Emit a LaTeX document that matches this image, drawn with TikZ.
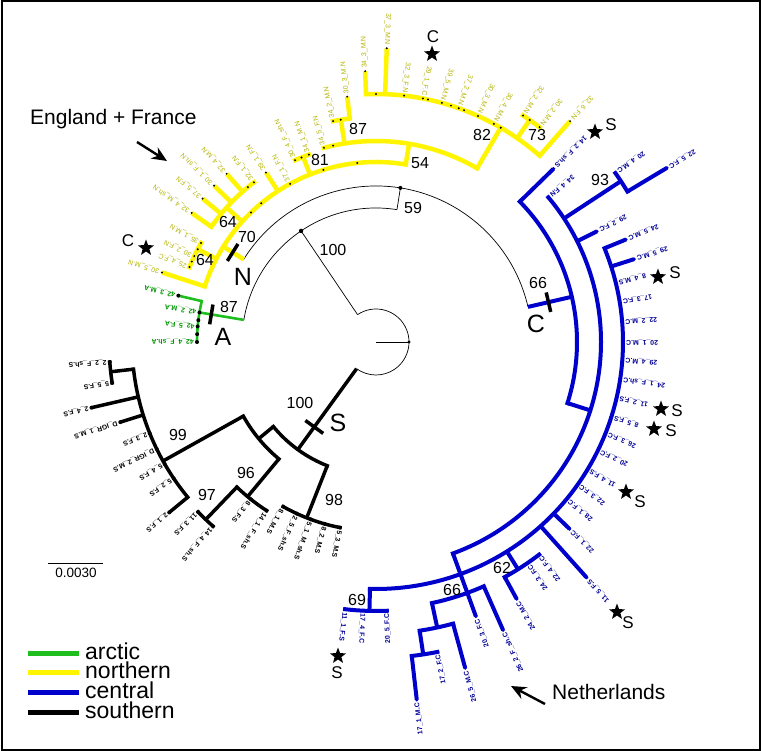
\documentclass[tikz,border=0pt]{standalone}
\usepackage{fontspec}
\setmainfont{Liberation Sans}
\usetikzlibrary{shapes.geometric,arrows.meta,calc}
\definecolor{ygl}{RGB}{255,245,0}
\definecolor{ytx}{RGB}{180,180,0}
\definecolor{bln}{RGB}{0,0,205}
\definecolor{btx}{RGB}{0,0,150}
\definecolor{gln}{RGB}{30,190,30}
\definecolor{gtx}{RGB}{0,150,0}
\newcounter{lfc}
\tikzset{
  Yline/.style={draw=ygl, line width=4.5pt},
  Bline/.style={draw=bln, line width=4pt},
  Kline/.style={draw=black, line width=3.5pt},
  Gline/.style={draw=gln, line width=2.6pt},
  Tline/.style={draw=black, line width=0.7pt},
  Ydot/.style={fill=black, radius=1.1},
  Bdot/.style={fill=bln, radius=1.9},
  Kdot/.style={fill=black, radius=2},
  Gdot/.style={fill=black, radius=2},
  Ylab/.style={text=ytx, font=\fontsize{6.9}{8}\selectfont, inner sep=0pt},
  Blab/.style={text=btx, font=\fontsize{6.9}{8}\selectfont\bfseries, inner sep=0pt},
  Klab/.style={text=black, font=\fontsize{6.9}{8}\selectfont\bfseries, inner sep=0pt},
  Glab/.style={text=gtx, font=\fontsize{6.9}{8}\selectfont\bfseries, inner sep=0pt},
  barline/.style={draw=black, line width=3.5pt},
  sup/.style={font=\fontsize{16}{18}\selectfont, inner sep=0pt},
  bigl/.style={font=\fontsize{25}{28}\selectfont, inner sep=0pt},
  starl/.style={font=\fontsize{17}{19}\selectfont, inner sep=0pt},
  starmark/.style={star, star points=5, star point ratio=2.4, fill=black, inner sep=0pt, minimum size=17pt},
  annot/.style={font=\fontsize{21}{24}\selectfont, inner sep=0pt},
  legt/.style={font=\fontsize{23}{25}\selectfont, inner sep=0pt},
  bigarrow/.style={line width=2.4pt, -{Stealth[length=15pt,width=13pt]}},
}
\newcommand{\tRad}[4]{\draw[#1line] (#2:#3) -- (#2:#4);}
\newcommand{\tArc}[4]{\draw[#1line, line cap=rect] (#2:#4) arc[start angle=#2, end angle=#3, radius=#4];}
\newcommand{\tDot}[3]{\fill[#1dot] (#2:#3) circle;}
\newcommand{\tBar}[3]{\draw[barline] ($(#1:#2)+(#1+90:#3)$) -- ($(#1:#2)+(#1-90:#3)$);}
\newcommand{\tLeaf}[5]{%
  \draw[#1line] (#2:#3) -- (#2:#4);
  \fill[#1dot] (#2:#4) circle;
  \stepcounter{lfc}%
  \pgfmathtruncatemacro\lside{cos(#2)<0}%
  \ifnum\lside=1
    \node[#1lab, anchor=west, rotate=#2] (leaf\arabic{lfc}) at (#2:{#4+3}) {\detokenize{#5}};
  \else
    \node[#1lab, anchor=east, rotate=#2+180] (leaf\arabic{lfc}) at (#2:{#4+3}) {\detokenize{#5}};
  \fi}
\begin{document}
\begin{tikzpicture}[x=1pt,y=1pt]
\useasboundingbox (0,0) rectangle (761,-751);
\fill[white] (0,0) rectangle (761,-751);
\draw[line width=2pt] (1.5,-1.5) rectangle (759.5,-749.5);

\begin{scope}[shift={(376,-342)}]
% ---------- thin backbone
\draw[Tline] (0:0) -- (0:33);
\fill (0:33) circle[radius=1.6];
\draw[Tline] (124:33) arc[start angle=124, end angle=-126, radius=33];
\draw[Tline] (124:33) -- (124:134);
\fill (124:134) circle[radius=2.2];
\draw[Tline] (81:134) arc[start angle=81, end angle=170.5, radius=134];
\draw[Tline] (81:134) -- (81:156);
\fill (81:156) circle[radius=2];
\draw[Tline] (13:156) arc[start angle=13, end angle=148, radius=156];

% ---------- arctic (green)
\tRad{G}{170.5}{134}{179}
\tArc{G}{166.8}{180}{179}
\tLeaf{G}{166.8}{179}{203}{42_3_M.A}
\tLeaf{G}{170.5}{179}{179}{42_2_M.A}
\tLeaf{G}{175}{179}{179}{42_5_F.A}
\tLeaf{G}{180}{179}{179}{42_4_F_sh.A}
\tDot{G}{173}{179}
\tDot{G}{177.5}{179}
\tBar{170.5}{167}{10}

% ---------- northern (yellow)
\tRad{Y}{148}{156}{180}
\tArc{Y}{80.5}{162}{180}
\tLeaf{Y}{162}{180}{225}{30_5_M.N}
\tRad{Y}{152.5}{180}{201}
\tArc{Y}{150.5}{158.1}{201}
\tLeaf{Y}{158.1}{201}{201}{25_4_F.C}
\tLeaf{Y}{154.7}{201}{201}{30_2_F.N}
\tLeaf{Y}{150.5}{201}{201}{35_1_M.N}
\tDot{Y}{156.4}{201}
\tDot{Y}{152.5}{201}
\tRad{Y}{138}{180}{201}
\tArc{Y}{127.4}{145}{201}
\tLeaf{Y}{145}{201}{225}{32_4_M_sh.N}
\tLeaf{Y}{140.4}{201}{225}{37_5_F.N}
\tLeaf{Y}{136}{201}{225}{30_1_F_sh.N}
\tLeaf{Y}{131.6}{201}{225}{32_4_M.N}
\tLeaf{Y}{127.4}{201}{201}{32_1_F.N}
\tDot{Y}{129.6}{201}
\tLeaf{Y}{123}{180}{202}{39_1_F.N}
\tLeaf{Y}{118.5}{180}{180}{37_1_F.N}
\tDot{Y}{134}{180}
\tDot{Y}{129.6}{180}
\tDot{Y}{107}{180}
\tDot{Y}{96}{180}
\tRad{Y}{111.5}{180}{199}
\tArc{Y}{109.7}{114}{199}
\tLeaf{Y}{114}{199}{199}{30_4_F_sh.N}
\tLeaf{Y}{109.7}{199}{199}{34_1_M.N}
\tDot{Y}{112}{199}
\tRad{Y}{80.5}{180}{201}
\tArc{Y}{59.8}{105}{201}
\tLeaf{Y}{105}{201}{201}{34_5_F.N}
\tDot{Y}{102.3}{201}
\tRad{Y}{99}{201}{225}
\tArc{Y}{96.7}{101}{225}
\tLeaf{Y}{101}{225}{225}{34_2_M.N}
\tLeaf{Y}{96.7}{225}{247}{30_3_M.N}
\tDot{Y}{99}{225}
\tRad{Y}{59.8}{201}{248}
\tArc{Y}{48.7}{92.3}{248}
\tLeaf{Y}{92.3}{248}{271}{34_3_M.N}
\tLeaf{Y}{87.9}{248}{294}{37_3_M.N}
\tDot{Y}{90}{248}
\tLeaf{Y}{83.5}{248}{248}{32_3_F.N}
\tLeaf{Y}{79.1}{248}{248}{29_1_F.C}
\tDot{Y}{77.9}{248}
\tLeaf{Y}{74.6}{248}{248}{39_5_M.N}
\tDot{Y}{72.4}{248}
\tLeaf{Y}{70.5}{248}{248}{37_2_M.N}
\tDot{Y}{69.2}{248}
\tLeaf{Y}{65.7}{248}{248}{30_3_M.N}
\tLeaf{Y}{61.6}{248}{248}{30_4_M.N}
\tDot{Y}{59.8}{248}
\tRad{Y}{55.3}{248}{270}
\tArc{Y}{52.7}{57}{270}
\tLeaf{Y}{57}{270}{270}{32_2_M.N}
\tLeaf{Y}{52.7}{270}{270}{30_2_M.N}
\tDot{Y}{55.3}{270}
\tLeaf{Y}{48.7}{248}{294}{32_6_F.N}
\tBar{148}{169}{10}

% ---------- central (blue)
\tRad{B}{13}{156}{201}
\tArc{B}{-17.7}{44.3}{201}
\tLeaf{B}{44.3}{201}{248}{14_2_F_sh.S}
\tRad{B}{-17.7}{201}{225}
\tArc{B}{-70}{40}{225}
\tLeaf{B}{40}{225}{225}{34_4_F.N}
\tRad{B}{33.3}{225}{293}
\tArc{B}{30.9}{35.2}{293}
\tLeaf{B}{35.2}{293}{293}{20_4_M.C}
\tLeaf{B}{30.9}{293}{339}{22_5_F.C}
\tDot{B}{29.7}{225}
\tLeaf{B}{26.6}{225}{247}{29_2_F.C}
\tRad{B}{-70}{225}{247}
\tArc{B}{-91.4}{22.3}{247}
\tLeaf{B}{22.3}{247}{270}{24_5_M.C}
\tDot{B}{19.9}{247}
\tLeaf{B}{17.8}{247}{271}{29_5_M.C}
\tLeaf{B}{13.8}{247}{247}{8_4_M.S}
\tLeaf{B}{9.3}{247}{247}{17_3_F.C}
\tLeaf{B}{4.6}{247}{247}{22_2_M.C}
\tLeaf{B}{0}{247}{247}{20_1_M.C}
\tLeaf{B}{-4.2}{247}{247}{29_4_M.C}
\tLeaf{B}{-8.6}{247}{247}{24_1_F_sh.C}
\tLeaf{B}{-13}{247}{247}{11_2_F.S}
\tLeaf{B}{-17.6}{247}{247}{8_5_F.S}
\tLeaf{B}{-21.8}{247}{247}{26_3_F.C}
\tLeaf{B}{-26}{247}{247}{20_2_F.C}
\tLeaf{B}{-31}{247}{247}{11_4_F.S}
\tLeaf{B}{-35.3}{247}{247}{22_3_F.C}
\tLeaf{B}{-39.5}{247}{247}{28_1_F.C}
\tLeaf{B}{-44}{247}{269}{22_1_F.C}
\tLeaf{B}{-48.2}{247}{316}{11_5_F.S}
\tRad{B}{-58}{247}{268}
\tArc{B}{-61.3}{-52.5}{268}
\tLeaf{B}{-52.5}{268}{268}{22_4_F.C}
\tLeaf{B}{-55.5}{268}{268}{24_3_F.C}
\tLeaf{B}{-61.3}{268}{293}{24_2_M.C}
\tRad{B}{-70}{247}{267}
\tArc{B}{-77.9}{-66.2}{267}
\tLeaf{B}{-66.2}{267}{315}{26_2_F_sh.C}
\tLeaf{B}{-70}{267}{292}{20_3_F.C}
\tRad{B}{-77.9}{267}{292}
\tArc{B}{-81.4}{-74.7}{292}
\tLeaf{B}{-74.7}{292}{338}{26_5_M.C}
\tRad{B}{-81.4}{292}{316}
\tArc{B}{-83.5}{-78.8}{316}
\tLeaf{B}{-78.8}{316}{316}{17_2_F.C}
\tLeaf{B}{-83.5}{316}{360}{17_1_M.C}
\tRad{B}{-91.4}{247}{269}
\tArc{B}{-96.6}{-87.7}{269}
\tLeaf{B}{-96.6}{269}{269}{11_1_F.S}
\tLeaf{B}{-92.8}{269}{269}{17_4_F.C}
\tLeaf{B}{-87.7}{269}{269}{20_5_F.C}
\tDot{B}{-94.7}{269}
\tDot{B}{-90}{269}
\tBar{13}{177}{10}

% ---------- southern (black)
\tRad{K}{234}{33}{133}
\tArc{K}{219.5}{248.5}{133}
\tRad{K}{248.5}{133}{189}
\tArc{K}{240.6}{259}{189}
\tLeaf{K}{240.6}{189}{189}{8_1_M.S}
\tLeaf{K}{245.2}{189}{189}{2_5_F_sh.S}
\tLeaf{K}{249.8}{189}{189}{5_1_M_sh.S}
\tLeaf{K}{254.3}{189}{189}{8_2_M.S}
\tLeaf{K}{259}{189}{189}{5_3_M.S}
\tRad{K}{219.5}{133}{152}
\tArc{K}{209.2}{230.3}{152}
\tRad{K}{209.2}{152}{244}
\tArc{K}{186.4}{219.5}{244}
\tRad{K}{186.4}{244}{267}
\tArc{K}{184.3}{188.8}{267}
\tLeaf{K}{184.3}{267}{267}{2_2_F_sh.S}
\tLeaf{K}{188.8}{267}{267}{5_5_F.S}
\tLeaf{K}{193}{244}{292}{2_4_F.S}
\tLeaf{K}{197.4}{244}{268}{D_IGR_1_M.S}
\tLeaf{K}{202}{244}{244}{2_3_F.S}
\tLeaf{K}{206}{244}{244}{D_IGR_2_M.S}
\tLeaf{K}{210}{244}{244}{5_4_F.S}
\tLeaf{K}{214}{244}{244}{5_2_F.S}
\tLeaf{K}{219.5}{244}{268}{2_1_F.S}
\tRad{K}{230.3}{152}{201}
\tArc{K}{226.2}{237}{201}
\tRad{K}{226.2}{201}{246}
\tArc{K}{223.7}{228.5}{246}
\tLeaf{K}{223.7}{246}{246}{11_3_F.S}
\tLeaf{K}{228.5}{246}{246}{14_4_F_sh.S}
\tLeaf{K}{231.5}{201}{201}{8_3_F.S}
\tLeaf{K}{237}{201}{201}{14_1_F_sh.S}
\tBar{234}{105}{11}
\end{scope}

% ---------- support values
\node[sup] (s100a) at (333,-250) {100};
\node[sup] (s59) at (413,-208) {59};
\node[sup] (s70) at (247,-237) {70};
\node[sup] (s64a) at (228,-222) {64};
\node[sup] (s64b) at (205,-260) {64};
\node[sup] (s81) at (320,-160) {81};
\node[sup] (s87a) at (358,-129) {87};
\node[sup] (s54) at (420,-163) {54};
\node[sup] (s82) at (482,-135) {82};
\node[sup] (s73) at (537,-135) {73};
\node[sup] (s87b) at (229,-307) {87};
\node[sup] (s66a) at (538,-283) {66};
\node[sup] (s93) at (600,-180) {93};
\node[sup] (s62) at (502,-568) {62};
\node[sup] (s66b) at (452,-590) {66};
\node[sup] (s69) at (357,-600) {69};
\node[sup] (s100b) at (300,-403) {100};
\node[sup] (s99) at (178,-435) {99};
\node[sup] (s96) at (246,-473) {96};
\node[sup] (s97) at (207,-495) {97};
\node[sup] (s98) at (334,-500) {98};

% ---------- clade letters
\node[bigl] (lN) at (243,-277) {N};
\node[bigl] (lA) at (223,-337) {A};
\node[bigl] (lC) at (536,-324) {C};
\node[bigl] (lS) at (338,-423) {S};

% ---------- stars
\node[starmark] (st1) at (595,-132) {};
\node[starl] (sl1) at (611,-125) {S};
\node[starmark] (st2) at (658,-277) {};
\node[starl] (sl2) at (675,-273) {S};
\node[starmark] (st3) at (661,-409) {};
\node[starl] (sl3) at (677,-411) {S};
\node[starmark] (st4) at (654,-429) {};
\node[starl] (sl4) at (671,-431) {S};
\node[starmark] (st5) at (626,-492) {};
\node[starl] (sl5) at (640,-502) {S};
\node[starmark] (st6) at (617,-612) {};
\node[starl] (sl6) at (628,-623) {S};
\node[starmark] (st7) at (338,-656) {};
\node[starl] (sl7) at (337,-673) {S};
\node[starmark] (st8) at (432,-54) {};
\node[starl] (sl8) at (433,-37) {C};
\node[starmark] (st9) at (146,-248) {};
\node[starl] (sl9) at (128,-241) {C};

% ---------- annotations
\node[annot, anchor=west] (eng) at (30,-119) {England + France};
\coordinate (ea0) at (137,-142);
\coordinate (ea1) at (167,-161);
\draw[bigarrow] (ea0) -- (ea1);
\node[annot, anchor=west] (ned) at (552,-692) {Netherlands};
\coordinate (na0) at (545,-704);
\coordinate (na1) at (511,-686);
\draw[bigarrow] (na0) -- (na1);

% ---------- scale bar
\coordinate (sb0) at (48,-563);
\coordinate (sb1) at (103,-563);
\draw[line width=0.8pt] (sb0) -- (sb1);
\node[font=\fontsize{13.5}{15}\selectfont, inner sep=0pt] (sbt) at (76,-573) {0.0030};

% ---------- legend
\coordinate (lg1a) at (28,-653); \coordinate (lg1b) at (79,-653);
\coordinate (lg2a) at (28,-672); \coordinate (lg2b) at (79,-672);
\coordinate (lg3a) at (28,-692); \coordinate (lg3b) at (79,-692);
\coordinate (lg4a) at (28,-712); \coordinate (lg4b) at (79,-712);
\draw[draw=gln, line width=5pt] (lg1a) -- (lg1b);
\draw[draw=ygl, line width=5pt] (lg2a) -- (lg2b);
\draw[draw=bln, line width=5pt] (lg3a) -- (lg3b);
\draw[draw=black, line width=5pt] (lg4a) -- (lg4b);
\node[legt, anchor=base west] (lt1) at (85,-659) {arctic};
\node[legt, anchor=base west] (lt2) at (85,-678) {northern};
\node[legt, anchor=base west] (lt3) at (85,-698) {central};
\node[legt, anchor=base west] (lt4) at (85,-718) {southern};
\end{tikzpicture}
\end{document}
